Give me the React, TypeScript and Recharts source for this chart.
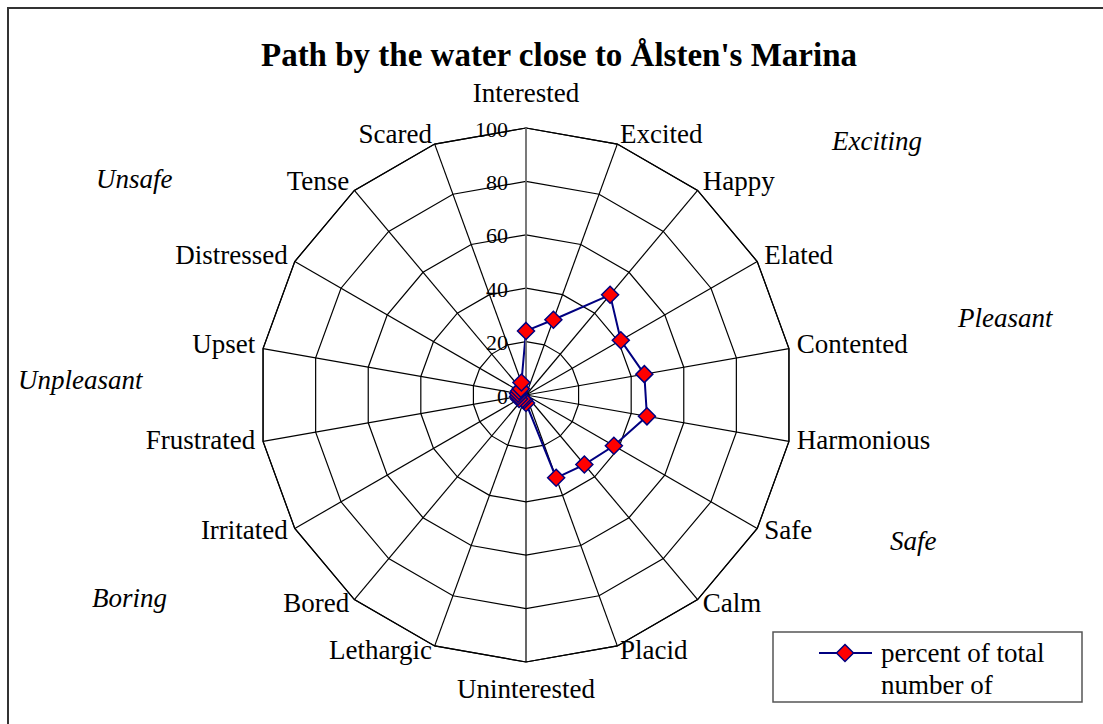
import { RadarChart, PolarGrid, PolarAngleAxis, PolarRadiusAxis, Radar, Legend, Customized } from 'recharts'

const categories = [
  'Interested', 'Excited', 'Happy', 'Elated', 'Contented', 'Harmonious', 'Safe', 'Calm', 'Placid',
  'Uninterested', 'Lethargic', 'Bored', 'Irritated', 'Frustrated', 'Upset', 'Distressed', 'Tense', 'Scared',
]
const percents = [24, 30, 49, 41, 45, 46, 38, 34, 33, 3, 2, 2, 3, 3, 3, 3, 3, 5]
const radiusTicks = [0, 20, 40, 60, 80, 100]
const groupNames = ['Exciting', 'Pleasant', 'Safe', 'Boring', 'Unpleasant', 'Unsafe']
const legendLines = ['percent of total', 'number of']
const seriesName = 'percent of total number of'
const title = "Path by the water close to Ålsten's Marina"

const data = categories.map((mood, i) => ({ mood, pct: percents[i] }))

const FONT = '"Liberation Serif", "Times New Roman", serif'
const CX = 526
const CY = 395
const NAVY = '#000080'

function Diamond({ cx, cy, r = 8.5 }: { cx: number; cy: number; r?: number }) {
  return (
    <polygon
      points={`${cx},${cy - r} ${cx + r},${cy} ${cx},${cy + r} ${cx - r},${cy}`}
      fill="#FF0000"
      stroke={NAVY}
      strokeWidth={1.5}
    />
  )
}

const renderDot = (props: any) => <Diamond key={`d-${props.index}`} cx={props.cx} cy={props.cy} />

const renderAngleTick = (props: any) => {
  const { x, y, textAnchor, payload } = props
  let dy = 6
  if (textAnchor === 'middle') dy = y < CY ? -18 : 28
  return (
    <text x={x} y={y + dy} textAnchor={textAnchor} fontFamily={FONT} fontSize={27} fill="#000">
      {payload.value}
    </text>
  )
}

const renderRadiusTick = (props: any) => {
  const { x, y, payload } = props
  return (
    <text x={x - 18} y={y + 1} textAnchor="end" dominantBaseline="central" fontFamily={FONT} fontSize={22} fill="#000">
      {payload.value}
    </text>
  )
}

// quadrant captions around the wheel
const groupSpots = [
  [832, 150],
  [958, 327],
  [890, 550],
  [92, 607],
  [18, 389],
  [96, 188],
]

function Annotations() {
  return (
    <g>
      <text x={559} y={66} textAnchor="middle" fontFamily={FONT} fontWeight="bold" fontSize={33} fill="#000">
        {title}
      </text>
      {groupNames.map((g, i) => (
        <text key={g} x={groupSpots[i][0]} y={groupSpots[i][1]} fontFamily={FONT} fontStyle="italic" fontSize={27} fill="#000">
          {g}
        </text>
      ))}
    </g>
  )
}

const renderLegend = () => (
  <svg width={312} height={73} style={{ display: 'block' }}>
    <rect x={1} y={1} width={309} height={70} fill="#fff" stroke="#555" strokeWidth={1.5} />
    <line x1={47} x2={100} y1={22} y2={22} stroke={NAVY} strokeWidth={2} />
    <Diamond cx={73} cy={22} />
    {legendLines.map((line, i) => (
      <text key={line} x={109} y={31 + i * 32} fontFamily={FONT} fontSize={27} fill="#000">
        {line}
      </text>
    ))}
  </svg>
)

export default function App() {
  return (
    <div style={{ position: 'absolute', left: 0, top: 0, width: 1103, height: 724, background: '#fff', overflow: 'hidden' }}>
      <div
        style={{
          position: 'absolute',
          left: 7,
          top: 7,
          width: 1200,
          height: 800,
          borderLeft: '2px solid #333',
          borderTop: '2px solid #333',
        }}
      />
      <div style={{ position: 'absolute', left: 0, top: 0 }}>
        <RadarChart
          width={1103}
          height={724}
          data={data}
          cx={CX}
          cy={CY}
          outerRadius={267}
          startAngle={90}
          endAngle={-270}
          margin={{ top: 0, right: 0, bottom: 0, left: 0 }}
        >
          <PolarGrid gridType="polygon" stroke="#000" strokeWidth={1.2} />
          <PolarAngleAxis dataKey="mood" tick={renderAngleTick} tickLine={false} axisLine={{ stroke: '#000', strokeWidth: 1.2 }} />
          <PolarRadiusAxis
            angle={90}
            domain={[0, 100]}
            ticks={radiusTicks as any}
            tickCount={6}
            tick={renderRadiusTick}
            tickLine={false}
            axisLine={{ stroke: '#808080', strokeWidth: 1.5 }}
          />
          <Radar
            name={seriesName}
            dataKey="pct"
            stroke={NAVY}
            strokeWidth={2}
            fill="none"
            fillOpacity={0}
            dot={renderDot}
            isAnimationActive={false}
          />
          <Legend
            layout="horizontal"
            verticalAlign="middle"
            align="center"
            content={renderLegend}
            wrapperStyle={{ position: 'absolute', left: 772, top: 631, width: 312, height: 73 }}
          />
          <Customized component={Annotations} />
        </RadarChart>
      </div>
    </div>
  )
}
